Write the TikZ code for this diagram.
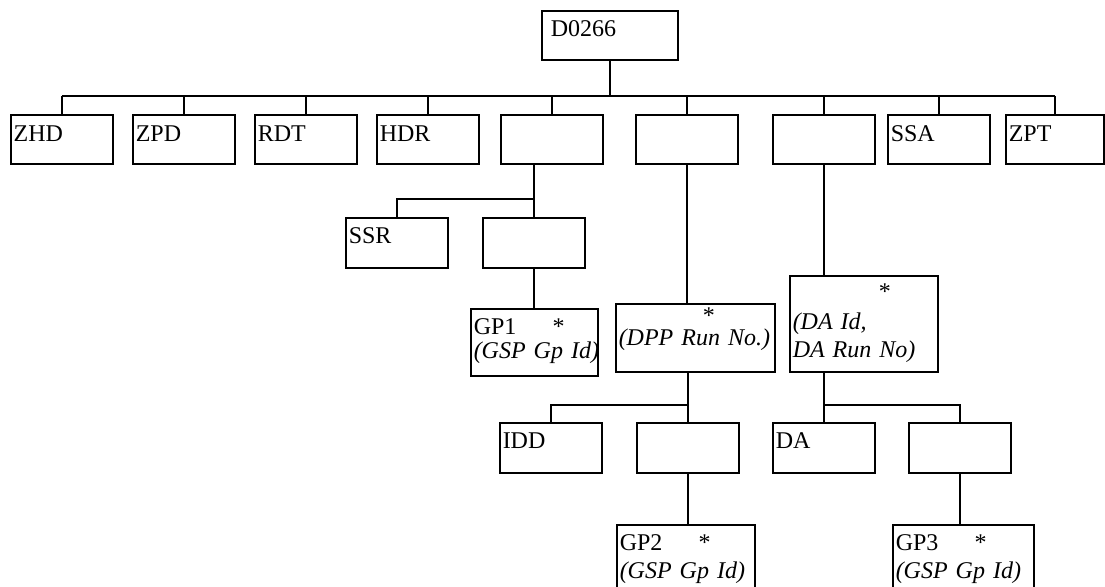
\documentclass[tikz,border=0pt]{standalone}
\usepackage{fontspec}
\setmainfont{Liberation Serif}
\tikzset{
  blk/.style={draw, anchor=north west, align=left,
    inner xsep=1.5pt, inner ysep=0pt, text width=#1,
    font=\fontsize{12}{12}\selectfont},
  blk/.default=48pt,
  toprow/.style={text height=13.5pt, text depth=11pt},
  lowrow/.style={text height=13pt, text depth=12pt}
}
\newcommand{\gpstar}[1]{\makebox[39.5pt][l]{#1}*}

\begin{document}
\begin{tikzpicture}[x=0.5pt, y=-0.5pt, line width=0.75pt]
	\useasboundingbox (0,0) rectangle (1105,586);
	\node[blk=59pt, inner xsep=4.5pt, text height=13pt, text depth=11.5pt] (d0266) at (541,10) {D0266};
	\foreach \n/\x/\t in {zhd/10/ZHD, zpd/132/ZPD, rdt/254/RDT, hdr/376/HDR, b5/500/, b6/635/, b7/772/, ssa/887/SSA}
		\node[blk, toprow] (\n) at (\x,114) {\t};
	\node[blk=46pt, toprow] (zpt) at (1005,114) {ZPT};
	\coordinate (bus) at (0,96);
	\draw (d0266.south) -- (d0266.south |- bus);
	\draw (zhd.north |- bus) -- (zpt.north |- bus);
	\foreach \n in {zhd,zpd,rdt,hdr,b5,b6,b7,ssa,zpt}
		\draw (\n.north) -- (\n.north |- bus);

	\node[blk, lowrow] (ssr) at (345,217) {SSR};
	\node[blk, lowrow] (s5) at (482,217) {};
	\node[blk=60.5pt, text height=13pt, text depth=20.5pt] (gp1) at (470,308) {\gpstar{GP1}\\\mbox{\textit{(GSP Gp Id)}}};
	\coordinate (br5) at (0,199);
	\draw (s5.north |- b5.south) -- (s5.north);
	\draw (ssr.north) |- (s5.north |- br5);
	\draw (s5.south) -- (s5.south |- gp1.north);

	\node[blk=76.5pt, text height=10pt, text depth=24pt] (dpp) at (615,303) {\hspace*{42pt}*\\[-1pt]\mbox{\textit{(DPP Run No.)}}};
	\node[blk=71pt, text height=12pt, text depth=36pt] (dabox) at (789,275) {\hspace*{43pt}*\\[3pt]\textit{(DA Id,}\\[2pt]\mbox{\textit{DA Run No)}}};
	\draw (b6.south) -- (b6.south |- dpp.north);
	\draw (b7.south) -- (b7.south |- dabox.north);

	\node[blk, lowrow] (idd) at (499,422) {IDD};
	\node[blk, lowrow] (s6) at (636,422) {};
	\node[blk, lowrow] (da) at (772,422) {DA};
	\node[blk, lowrow] (s7) at (908,422) {};
	\node[blk=66pt, text height=13pt, text depth=20pt] (gp2) at (616,524) {\gpstar{GP2}\\[2pt]\mbox{\textit{(GSP Gp Id)}}};
	\node[blk=67.5pt, text height=13pt, text depth=20pt] (gp3) at (892,524) {\gpstar{GP3}\\[2pt]\mbox{\textit{(GSP Gp Id)}}};
	\coordinate (br6) at (0,405);
	\draw (s6.north |- dpp.south) -- (s6.north);
	\draw (idd.north) |- (s6.north |- br6);
	\draw (s6.south) -- (s6.south |- gp2.north);
	\draw (da.north |- dabox.south) -- (da.north);
	\draw (da.north |- br6) -| (s7.north);
	\draw (s7.south) -- (s7.south |- gp3.north);
\end{tikzpicture}
\end{document}
